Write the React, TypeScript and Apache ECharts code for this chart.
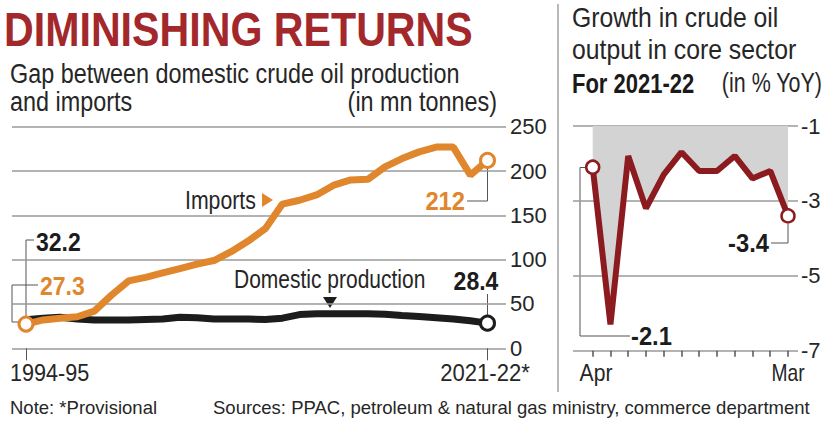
import React, { useEffect, useRef } from "react";
import * as echarts from "echarts";

const years = [
  "1994-95", "1995-96", "1996-97", "1997-98", "1998-99", "1999-00", "2000-01",
  "2001-02", "2002-03", "2003-04", "2004-05", "2005-06", "2006-07", "2007-08",
  "2008-09", "2009-10", "2010-11", "2011-12", "2012-13", "2013-14", "2014-15",
  "2015-16", "2016-17", "2017-18", "2018-19", "2019-20", "2020-21", "2021-22*",
];
const imports = [
  27.3, 32, 33.8, 35.6, 42, 60, 76, 80, 85, 90, 95, 99, 109, 121, 135,
  162.7, 167, 173, 184, 190, 190.6, 204.7, 214, 221.6, 227, 227, 195.4, 212,
];
const domestic = [
  32.2, 34, 35, 33, 32, 32, 32, 32.5, 33, 35, 34.5, 33, 33, 33, 32.5,
  34, 38, 39, 39, 39, 39, 38.5, 37, 36, 34.5, 33, 31, 28.4,
];
const leftTicks = [0, 50, 100, 150, 200, 250];

const months = ["Apr", "May", "Jun", "Jul", "Aug", "Sep", "Oct", "Nov", "Dec", "Jan", "Feb", "Mar"];
const growth = [-2.1, -6.3, -1.8, -3.2, -2.3, -1.7, -2.2, -2.2, -1.8, -2.4, -2.2, -3.4];
const rightTicks = [-7, -5, -3, -1];

const FONT = "'Liberation Sans', Arial, sans-serif";
const ORANGE = "#e0862d";
const BLACK = "#1c1c1c";
const RED = "#8c1b1f";
const GRID = "#9a9a9a";
const TXT = "#262626";

function txt(x: number, y: number, text: string, size: number, opts: any = {}) {
  return {
    type: "text",
    x,
    y,
    silent: true,
    scaleX: opts.scaleX ?? 1,
    style: {
      text,
      fontSize: size,
      fontFamily: FONT,
      fontWeight: opts.weight ?? "normal",
      fill: opts.color ?? TXT,
      textAlign: opts.align ?? "left",
      textVerticalAlign: "middle",
      align: opts.align ?? "left",
      verticalAlign: "middle",
    },
  };
}
function pl(points: number[][], color = "#555", width = 1) {
  return {
    type: "polyline",
    silent: true,
    shape: { points },
    style: { stroke: color, lineWidth: width, fill: null },
  };
}

export default function App() {
  const ref = useRef<HTMLDivElement>(null);
  useEffect(() => {
    if (!ref.current) return;
    const chart = echarts.init(ref.current, null, { renderer: "svg" });
    const lastL = years.length - 1;
    const lastR = months.length - 1;
    const option: any = {
      animation: false,
      backgroundColor: "#ffffff",
      grid: [
        { left: 12, right: 323, top: 126.7, bottom: 74.7 },
        { left: 26, right: 341.5, top: 126.7, bottom: 74.7 },
        { left: 573, right: 31, top: 126, bottom: 72.3 },
        { left: 592.7, right: 41, top: 126, bottom: 72.3 },
      ],
      xAxis: [
        { gridIndex: 0, type: "value", min: 0, max: 1, show: false },
        {
          gridIndex: 1, type: "category", data: years, boundaryGap: false,
          axisLine: { show: false },
          axisTick: {
            show: true, length: 12, interval: (i: number) => i === 0 || i === lastL,
            lineStyle: { color: "#555", width: 1 },
          },
          axisLabel: { show: false },
        },
        { gridIndex: 2, type: "value", min: 0, max: 1, show: false },
        {
          gridIndex: 3, type: "category", data: months, boundaryGap: false,
          axisLine: { show: false },
          axisTick: { show: true, length: 6, interval: 0, lineStyle: { color: "#555", width: 1.5 } },
          axisLabel: { show: false },
        },
      ],
      yAxis: [
        {
          gridIndex: 0, type: "value", position: "right", min: leftTicks[0],
          max: leftTicks[leftTicks.length - 1], interval: 50,
          axisLine: { show: false }, axisTick: { show: false },
          splitLine: { show: true, lineStyle: { color: GRID, width: 1.5 } },
          axisLabel: { margin: 4, fontSize: 22, fontFamily: FONT, color: TXT },
        },
        { gridIndex: 1, type: "value", min: 0, max: 250, show: false },
        {
          gridIndex: 2, type: "value", position: "right", min: rightTicks[0],
          max: rightTicks[rightTicks.length - 1], interval: 2,
          axisLine: { show: false }, axisTick: { show: false },
          splitLine: { show: true, lineStyle: { color: GRID, width: 1.5 } },
          axisLabel: { margin: 3, fontSize: 22, fontFamily: FONT, color: TXT },
        },
        { gridIndex: 3, type: "value", min: -7, max: -1, show: false },
      ],
      series: [
        {
          name: "Domestic production", type: "line", xAxisIndex: 1, yAxisIndex: 1,
          data: domestic, smooth: false,
          lineStyle: { color: BLACK, width: 7 },
          symbol: "circle", showAllSymbol: true,
          symbolSize: (_v: any, p: any) => (p.dataIndex === lastL ? 14 : 0),
          itemStyle: { color: "#fff", borderColor: BLACK, borderWidth: 3 },
          z: 3,
        },
        {
          name: "Imports", type: "line", xAxisIndex: 1, yAxisIndex: 1,
          data: imports,
          lineStyle: { color: ORANGE, width: 7 },
          symbol: "circle", showAllSymbol: true,
          symbolSize: (_v: any, p: any) => (p.dataIndex === 0 || p.dataIndex === lastL ? 14 : 0),
          itemStyle: { color: "#fff", borderColor: ORANGE, borderWidth: 3 },
          z: 4,
        },
        {
          name: "Growth", type: "line", xAxisIndex: 3, yAxisIndex: 3,
          data: growth,
          lineStyle: { color: RED, width: 6 },
          areaStyle: { origin: "end", color: "#d3d3d3", opacity: 1 },
          symbol: "circle", showAllSymbol: true,
          symbolSize: (_v: any, p: any) => (p.dataIndex === 0 || p.dataIndex === lastR ? 13 : 0),
          itemStyle: { color: "#fff", borderColor: RED, borderWidth: 2.5 },
          z: 3,
        },
      ],
      graphic: [
        { type: "line", silent: true, shape: { x1: 558, y1: 4, x2: 558, y2: 392 }, style: { stroke: "#8a8a8a", lineWidth: 1.2 } },
        txt(4, 29, "DIMINISHING RETURNS", 49, { weight: "bold", color: "#a3282c", scaleX: 0.84 }),
        txt(10, 73, "Gap between domestic crude oil production", 27.5, { scaleX: 0.85 }),
        txt(10, 101, "and imports", 27.5, { scaleX: 0.85 }),
        txt(497, 101, "(in mn tonnes)", 27.5, { scaleX: 0.85, align: "right" }),
        txt(572, 18, "Growth in crude oil", 27.5, { scaleX: 0.9 }),
        txt(572, 50, "output in core sector", 27.5, { scaleX: 0.9 }),
        txt(572, 83, "For 2021-22", 27.5, { weight: "bold", color: "#1a1a1a", scaleX: 0.8 }),
        txt(822, 83, "(in % YoY)", 27.5, { scaleX: 0.78, align: "right" }),
        // left callouts
        pl([[26, 320], [26, 240], [34, 240]]),
        txt(36, 242, String(domestic[0]), 25, { weight: "bold", color: BLACK, scaleX: 0.92 }),
        pl([[22, 322], [12, 322], [12, 285], [38, 285]]),
        txt(40, 286, String(imports[0]), 25, { weight: "bold", color: ORANGE, scaleX: 0.92 }),
        pl([[487.5, 168], [487.5, 201], [467, 201]]),
        txt(465, 201, String(imports[lastL]), 25, { weight: "bold", color: ORANGE, align: "right", scaleX: 0.95 }),
        pl([[487.5, 294], [487.5, 315]]),
        txt(476, 281, String(domestic[lastL]), 25, { weight: "bold", color: BLACK, align: "center", scaleX: 0.92 }),
        txt(185, 200, "Imports", 25, { scaleX: 0.85 }),
        { type: "polygon", silent: true, shape: { points: [[262, 193], [262, 207], [273, 200]] }, style: { fill: ORANGE } },
        txt(234, 279, "Domestic production", 25, { scaleX: 0.84 }),
        { type: "polygon", silent: true, shape: { points: [[323, 297], [337, 297], [330, 308]] }, style: { fill: BLACK } },
        txt(10, 373, years[0], 24, { scaleX: 0.9 }),
        txt(485, 373, years[lastL], 24, { align: "center", scaleX: 0.92 }),
        // right callouts
        pl([[587, 167.5], [580, 167.5], [580, 336], [630, 336]]),
        txt(631, 336, String(growth[0]), 25, { weight: "bold", color: BLACK, scaleX: 0.95 }),
        pl([[788, 224], [788, 243], [771, 243]]),
        txt(769, 243, String(growth[lastR]), 25, { weight: "bold", color: BLACK, align: "right", scaleX: 0.95 }),
        txt(596, 373, months[0], 24, { align: "center", scaleX: 0.88 }),
        txt(788, 373, months[lastR], 24, { align: "center", scaleX: 0.8 }),
        // footnotes
        txt(10, 407, "Note: *Provisional", 18.5),
        txt(213, 407, "Sources: PPAC, petroleum & natural gas ministry, commerce department", 18.5),
      ],
    };
    chart.setOption(option);
    return () => chart.dispose();
  }, []);
  return (
    <div
      ref={ref}
      style={{ position: "absolute", left: 0, top: 0, width: 829, height: 423, background: "#fff" }}
    />
  );
}
